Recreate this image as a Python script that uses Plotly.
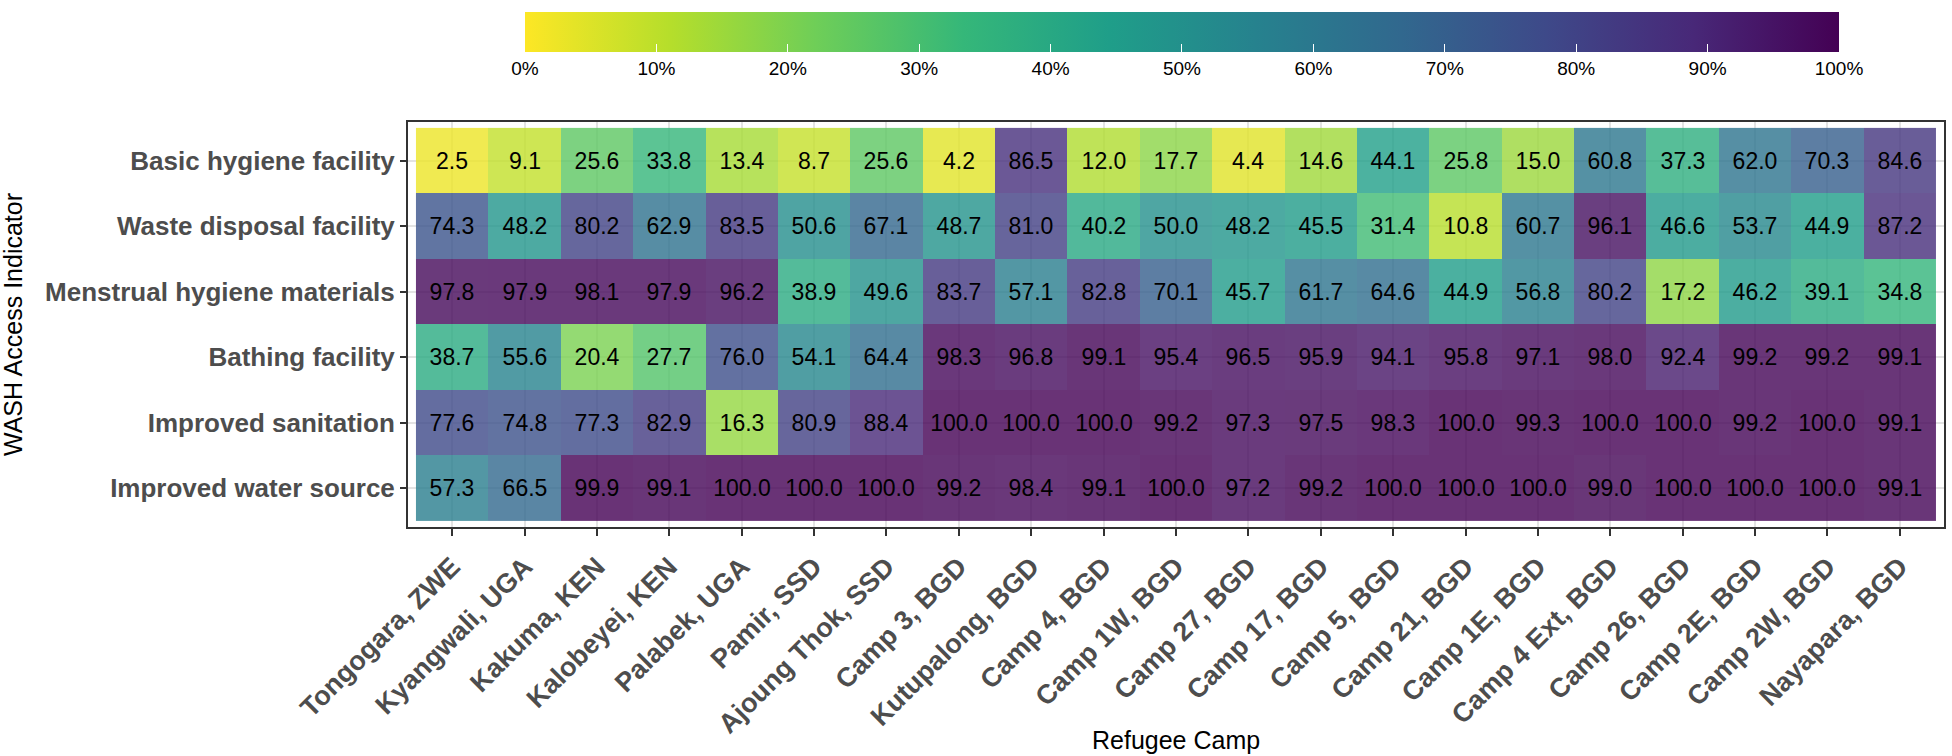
import plotly.graph_objects as go

camps = ["Tongogara, ZWE", "Kyangwali, UGA", "Kakuma, KEN", "Kalobeyei, KEN", "Palabek, UGA",
         "Pamir, SSD", "Ajoung Thok, SSD", "Camp 3, BGD", "Kutupalong, BGD", "Camp 4, BGD",
         "Camp 1W, BGD", "Camp 27, BGD", "Camp 17, BGD", "Camp 5, BGD", "Camp 21, BGD",
         "Camp 1E, BGD", "Camp 4 Ext, BGD", "Camp 26, BGD", "Camp 2E, BGD", "Camp 2W, BGD",
         "Nayapara, BGD"]

indicators = ["Basic hygiene facility", "Waste disposal facility", "Menstrual hygiene materials",
              "Bathing facility", "Improved sanitation", "Improved water source"]

basic_hygiene = [2.5, 9.1, 25.6, 33.8, 13.4, 8.7, 25.6, 4.2, 86.5, 12.0, 17.7, 4.4, 14.6, 44.1, 25.8, 15.0, 60.8, 37.3, 62.0, 70.3, 84.6]
waste_disposal = [74.3, 48.2, 80.2, 62.9, 83.5, 50.6, 67.1, 48.7, 81.0, 40.2, 50.0, 48.2, 45.5, 31.4, 10.8, 60.7, 96.1, 46.6, 53.7, 44.9, 87.2]
menstrual = [97.8, 97.9, 98.1, 97.9, 96.2, 38.9, 49.6, 83.7, 57.1, 82.8, 70.1, 45.7, 61.7, 64.6, 44.9, 56.8, 80.2, 17.2, 46.2, 39.1, 34.8]
bathing = [38.7, 55.6, 20.4, 27.7, 76.0, 54.1, 64.4, 98.3, 96.8, 99.1, 95.4, 96.5, 95.9, 94.1, 95.8, 97.1, 98.0, 92.4, 99.2, 99.2, 99.1]
sanitation = [77.6, 74.8, 77.3, 82.9, 16.3, 80.9, 88.4, 100.0, 100.0, 100.0, 99.2, 97.3, 97.5, 98.3, 100.0, 99.3, 100.0, 100.0, 99.2, 100.0, 99.1]
water_source = [57.3, 66.5, 99.9, 99.1, 100.0, 100.0, 100.0, 99.2, 98.4, 99.1, 100.0, 97.2, 99.2, 100.0, 100.0, 100.0, 99.0, 100.0, 100.0, 100.0, 99.1]

colorbar_ticks = [0, 10, 20, 30, 40, 50, 60, 70, 80, 90, 100]
colorbar_labels = ["0%", "10%", "20%", "30%", "40%", "50%", "60%", "70%", "80%", "90%", "100%"]

z = [basic_hygiene, waste_disposal, menstrual, bathing, sanitation, water_source]

FONT = "Liberation Sans, Arial, Helvetica, sans-serif"
W, H = 1952, 756
L, R, T, B = 408, 6, 122, 229
pw = W - L - R
ph = H - T - B

fig = go.Figure()
fig.add_trace(go.Heatmap(
    z=z, x=camps, y=indicators,
    colorscale="Viridis", reversescale=True, zmin=0, zmax=100,
    opacity=0.8,
    texttemplate="%{z:.1f}",
    textfont=dict(family=FONT, size=23, color="black"),
    xgap=0, ygap=0,
    colorbar=dict(
        orientation="h",
        x=(1183 - L) / pw, xanchor="center",
        y=1 + (T - 12) / ph, yanchor="top",
        lenmode="pixels", len=1314,
        thicknessmode="pixels", thickness=40,
        xpad=0, ypad=0,
        outlinewidth=0,
        tickmode="array",
        tickvals=colorbar_ticks,
        ticktext=colorbar_labels,
        ticks="inside", ticklen=8, tickcolor="white", tickwidth=1,
        tickfont=dict(family=FONT, size=19, color="black"),
    ),
))

fig.update_layout(
    width=W, height=H,
    margin=dict(l=L, r=R, t=T, b=B),
    paper_bgcolor="white", plot_bgcolor="white",
    font=dict(family=FONT),
    xaxis=dict(
        range=[-0.61, 20.61],
        tickangle=-45,
        tickfont=dict(family=FONT, size=27, color="#4d4d4d", weight="bold"),
        ticks="outside", ticklen=7, tickcolor="#333333", tickwidth=1.5,
        ticklabelstandoff=4,
        showline=True, mirror=True, linecolor="#333333", linewidth=2,
        showgrid=True, gridcolor="#e3e3e3", gridwidth=1.5,
        zeroline=False,
    ),
    yaxis=dict(
        range=[5.59, -0.59],
        tickfont=dict(family=FONT, size=26, color="#4d4d4d", weight="bold"),
        ticks="outside", ticklen=6, tickcolor="#333333", tickwidth=1.5,
        showline=True, mirror=True, linecolor="#333333", linewidth=2,
        showgrid=True, gridcolor="#e3e3e3", gridwidth=1.5,
        zeroline=False,
    ),
    annotations=[
        dict(text="WASH Access Indicator", xref="paper", yref="paper",
             x=(12 - L) / pw, y=0.5, xanchor="center", yanchor="middle",
             textangle=-90, showarrow=False,
             font=dict(family=FONT, size=25, color="black")),
        dict(text="Refugee Camp", xref="paper", yref="paper",
             x=0.5, y=-(740 - (T + ph)) / ph, xanchor="center", yanchor="middle",
             showarrow=False,
             font=dict(family=FONT, size=25, color="black")),
    ],
)

fig.write_html("out.html", config={"displayModeBar": False},
               post_script="document.body.style.margin='0';")
